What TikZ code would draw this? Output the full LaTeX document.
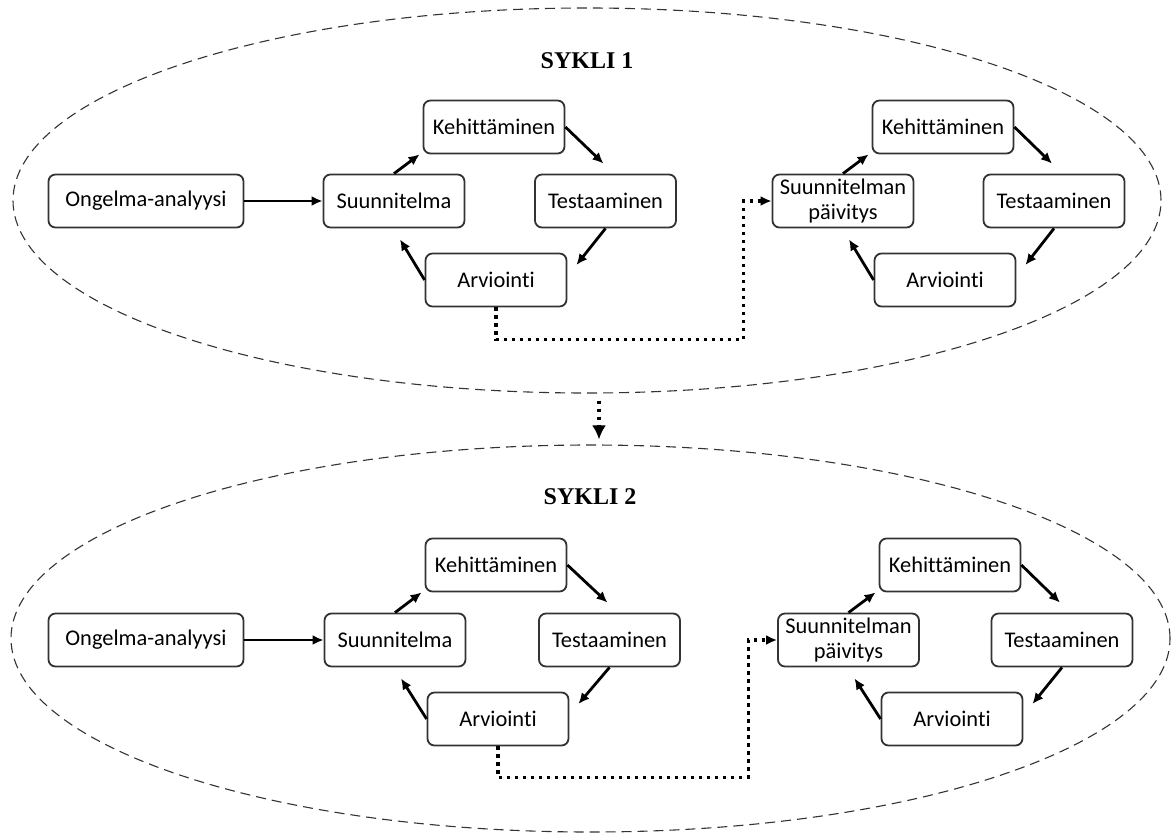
\documentclass[tikz,border=0pt]{standalone}
\usepackage{fontspec}
\setmainfont{Carlito}[Ligatures=NoCommon]
\newfontfamily\otsikko{Liberation Serif}
\usetikzlibrary{arrows.meta,shapes.geometric}

\begin{document}
\begin{tikzpicture}[x=0.5pt,y=-0.5pt,->,>={Latex[length=5.5pt,width=5pt]},
    box/.style={draw=black!80,line width=0.9pt,rounded corners=3.5pt,
      minimum width=70.5pt,minimum height=26.5pt,inner sep=2pt,
      align=center,font=\fontsize{11.2}{12.5}\selectfont},
    sykli/.style={ellipse,draw=black!80,line width=0.55pt,
      dash pattern=on 5pt off 3pt,inner sep=0pt},
    pisteet/.style={line width=1.6pt,dash pattern=on 1.6pt off 2.4pt},
    every edge/.style={draw,line width=1.4pt}]
          \useasboundingbox (0,0) rectangle (1171,834);

          % sykli 1
          \node (c1) [sykli,minimum width=574pt,minimum height=192.5pt] at (587,200.5) {};
          \node (t1) at (587,61) {\otsikko\fontsize{12}{14}\selectfont\bfseries SYKLI 1};
          \node (ong1) [box,minimum width=97.5pt] at (146,201) {Ongelma-analyysi};
          \node (sun1) [box,right of=ong1,node distance=124pt] {Suunnitelma};
          \node (keh1) [box,above of=sun1,node distance=37pt,xshift=50pt] {Kehittäminen};
          \node (tes1) [box,right of=sun1,node distance=105.75pt] {Testaaminen};
          \node (arv1) [box,below of=keh1,node distance=76.5pt,xshift=1pt] {Arviointi};
          \node (paiv1) [box,right of=tes1,node distance=118.75pt] {Suunnitelman\\päivitys};
          \node (keh1b) [box,above of=paiv1,node distance=37pt,xshift=50pt] {Kehittäminen};
          \node (tes1b) [box,right of=paiv1,node distance=105.5pt] {Testaaminen};
          \node (arv1b) [box,below of=keh1b,node distance=76.5pt,xshift=1pt] {Arviointi};

          \path
            (ong1) edge (sun1)
            (sun1.north) edge ([xshift=-1.5pt]keh1.south west)
            (keh1.east) edge ([xshift=-1pt,yshift=5pt]tes1.north)
            (tes1.south) edge ([xshift=4.5pt,yshift=7.5pt]arv1.east)
            (arv1.west) edge ([xshift=3pt,yshift=-5.5pt]sun1.south)
            (paiv1.north) edge ([xshift=-1.5pt]keh1b.south west)
            (keh1b.east) edge ([xshift=-1pt,yshift=5pt]tes1b.north)
            (tes1b.south) edge ([xshift=4.5pt,yshift=7.5pt]arv1b.east)
            (arv1b.west) edge ([xshift=3pt,yshift=-5.5pt]paiv1.south);
          \draw[pisteet] (arv1.south) -- ++(0,-16pt) -| ([xshift=-14pt]paiv1.west) -- (paiv1.west);

          % sykli 2
          \node (c2) [sykli,minimum width=579.5pt,minimum height=193.5pt] at (590.5,638.5) {};
          \node (t2) at (590,497) {\otsikko\fontsize{12}{14}\selectfont\bfseries SYKLI 2};
          \node (ong2) [box,minimum width=97.5pt] at (146,640) {Ongelma-analyysi};
          \node (sun2) [box,right of=ong2,node distance=124.5pt] {Suunnitelma};
          \node (keh2) [box,above of=sun2,node distance=37.5pt,xshift=50.5pt] {Kehittäminen};
          \node (tes2) [box,right of=sun2,node distance=107.25pt] {Testaaminen};
          \node (arv2) [box,below of=keh2,node distance=77pt,xshift=1pt] {Arviointi};
          \node (paiv2) [box,right of=tes2,node distance=119.5pt] {Suunnitelman\\päivitys};
          \node (keh2b) [box,above of=paiv2,node distance=37.5pt,xshift=50.75pt] {Kehittäminen};
          \node (tes2b) [box,right of=paiv2,node distance=106.75pt] {Testaaminen};
          \node (arv2b) [box,below of=keh2b,node distance=77pt,xshift=1pt] {Arviointi};

          \path
            (ong2) edge (sun2)
            (sun2.north) edge ([xshift=-1.5pt]keh2.south west)
            (keh2.east) edge ([xshift=-1pt,yshift=5pt]tes2.north)
            (tes2.south) edge ([xshift=4.5pt,yshift=7.5pt]arv2.east)
            (arv2.west) edge ([xshift=3pt,yshift=-5.5pt]sun2.south)
            (paiv2.north) edge ([xshift=-1.5pt]keh2b.south west)
            (keh2b.east) edge ([xshift=-1pt,yshift=5pt]tes2b.north)
            (tes2b.south) edge ([xshift=4.5pt,yshift=7.5pt]arv2b.east)
            (arv2b.west) edge ([xshift=3pt,yshift=-5.5pt]paiv2.south);
          \draw[pisteet] (arv2.south) -- ++(0,-15.5pt) -| ([xshift=-14.5pt]paiv2.west) -- (paiv2.west);

          % sykli 1 -> sykli 2
          \draw[pisteet,-{Latex[length=7pt,width=7pt]}]
            ([xshift=6pt,yshift=-3.5pt]c1.south) -- ([xshift=4.25pt,yshift=2.5pt]c2.north);

\end{tikzpicture}
\end{document}
